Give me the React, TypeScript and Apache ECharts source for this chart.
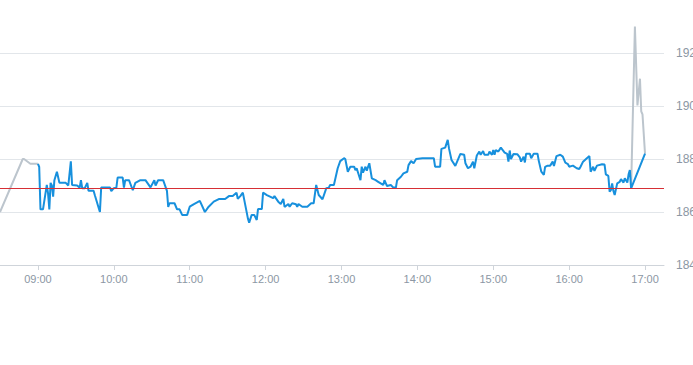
import React, { useEffect, useRef } from "react";
import * as echarts from "echarts";

const xTickLabels = ["09:00", "10:00", "11:00", "12:00", "13:00", "14:00", "15:00", "16:00", "17:00"];
const yTickValues = [184, 186, 188, 190, 192];
const previousClose = 186.89;

const preTimes = ["08:30", "08:48", "08:49", "08:54", "09:00"];
const preValues = [186.0, 188.0, 188.0, 187.82, 187.82];

const postTimes = ["16:49", "16:52", "16:54", "16:56", "16:57", "16:58", "17:00"];
const postValues = [186.89, 193.0, 190.02, 191.03, 189.8, 189.68, 188.2];

const mainTimes = [
  "09:00", "09:01", "09:02", "09:04", "09:07", "09:08", "09:09", "09:10", "09:11", "09:12", "09:13", "09:15", "09:17", "09:22", "09:24", "09:26", "09:27", "09:31", "09:33", "09:34", "09:35", "09:37", "09:39", "09:40", "09:44", "09:45", "09:49", "09:50", "09:57", "09:58",
  "10:00", "10:02", "10:03", "10:07", "10:08", "10:09", "10:12", "10:15", "10:17", "10:21", "10:25", "10:29", "10:32", "10:33", "10:35", "10:39", "10:42", "10:43", "10:44", "10:48", "10:50", "10:52", "10:54", "10:58",
  "11:00", "11:03", "11:08", "11:12", "11:15", "11:19", "11:23", "11:28", "11:31", "11:34", "11:37", "11:38", "11:40", "11:42", "11:46", "11:47", "11:49", "11:51", "11:53", "11:54", "11:57", "11:58",
  "12:01", "12:06", "12:07", "12:10", "12:12", "12:14", "12:15", "12:18", "12:19", "12:21", "12:24", "12:25", "12:26", "12:29", "12:33", "12:36", "12:38", "12:40", "12:42", "12:45", "12:48", "12:50", "12:51", "12:54", "12:57", "12:59",
  "13:02", "13:03", "13:05", "13:07", "13:10", "13:11", "13:12", "13:15", "13:16", "13:17", "13:19", "13:20", "13:22", "13:24", "13:27", "13:29", "13:33", "13:34", "13:36", "13:39", "13:41", "13:43", "13:44", "13:47", "13:49", "13:52", "13:53", "13:55", "13:57", "13:59",
  "14:04", "14:13", "14:14", "14:18", "14:19", "14:22", "14:24", "14:25", "14:27", "14:30", "14:34", "14:37", "14:38", "14:40", "14:42", "14:44", "14:45", "14:47", "14:49", "14:50", "14:52", "14:53", "14:56", "14:57", "14:59",
  "15:00", "15:01", "15:02", "15:04", "15:06", "15:09", "15:11", "15:12", "15:13", "15:14", "15:16", "15:19", "15:21", "15:22", "15:24", "15:25", "15:26", "15:29", "15:30", "15:32", "15:35", "15:36", "15:38", "15:40", "15:41", "15:43", "15:45", "15:47", "15:48", "15:50", "15:53", "15:55", "15:57", "15:59",
  "16:00", "16:03", "16:06", "16:08", "16:09", "16:11", "16:14", "16:16", "16:17", "16:19", "16:20", "16:22", "16:26", "16:28", "16:29", "16:31", "16:32", "16:33", "16:34", "16:35", "16:36", "16:38", "16:40", "16:41", "16:43", "16:44", "16:46", "16:47", "16:48", "16:49",
  "17:00",
];
const mainValues = [
  187.82, 187.7, 186.1, 186.1, 187.02, 186.7, 186.1, 187.1, 187.0, 186.58, 187.2, 187.52, 187.1, 187.1, 187.0, 187.91, 187.02, 187.0, 186.92, 187.2, 186.9, 186.9, 187.1, 186.8, 186.8, 186.63, 186.0, 186.92, 186.92, 186.79,
  186.9, 186.92, 187.3, 187.3, 186.92, 187.2, 187.2, 186.82, 187.1, 187.2, 187.2, 186.93, 187.2, 187.0, 187.2, 187.2, 186.8, 186.19, 186.33, 186.33, 186.1, 186.1, 185.89, 185.89,
  186.2, 186.29, 186.42, 186.0, 186.2, 186.39, 186.49, 186.49, 186.6, 186.6, 186.73, 186.5, 186.6, 186.73, 185.76, 185.6, 185.89, 185.89, 185.7, 186.11, 186.11, 186.73,
  186.64, 186.52, 186.6, 186.39, 186.3, 186.49, 186.19, 186.3, 186.2, 186.33, 186.29, 186.2, 186.3, 186.2, 186.2, 186.33, 186.33, 187.02, 186.64, 186.48, 186.9, 186.92, 187.02, 187.02, 187.65, 187.92,
  188.03, 188.0, 187.52, 187.71, 187.71, 187.58, 187.65, 187.2, 187.71, 187.49, 187.71, 187.56, 187.84, 187.27, 187.2, 187.14, 187.02, 187.2, 186.98, 187.02, 186.92, 186.92, 187.2, 187.33, 187.46, 187.52, 187.77, 187.92, 187.84, 188.0,
  188.03, 188.03, 187.71, 187.71, 188.38, 188.43, 188.72, 188.4, 187.96, 187.74, 188.19, 188.16, 187.84, 187.65, 187.71, 187.9, 187.65, 188.13, 188.28, 188.16, 188.3, 188.16, 188.16, 188.28, 188.16,
  188.34, 188.16, 188.34, 188.28, 188.43, 188.24, 188.19, 187.9, 188.32, 188.0, 188.19, 188.18, 188.06, 187.9, 188.09, 187.87, 188.2, 188.2, 188.03, 188.2, 188.2, 187.93, 187.52, 187.4, 187.7, 187.75, 187.75, 187.9, 187.74, 188.11, 188.16, 188.09, 187.86, 187.81,
  187.71, 187.75, 187.65, 187.62, 187.71, 187.9, 188.03, 188.11, 187.52, 187.71, 187.55, 187.75, 187.8, 187.79, 187.42, 187.36, 186.77, 186.83, 187.08, 186.79, 186.64, 187.08, 187.14, 187.24, 187.11, 187.27, 187.11, 187.42, 187.58, 186.89,
  188.2,
];

const toMin = (t: string) => {
  const [h, m] = t.split(":").map(Number);
  return h * 60 + m;
};
const fmt = (v: number) =>
  `${String(Math.floor(v / 60)).padStart(2, "0")}:${String(Math.round(v % 60)).padStart(2, "0")}`;
const pairs = (ts: string[], vs: number[]) => ts.map((t, i) => [toMin(t), vs[i]]);

const FONT = "'Liberation Sans', Arial, sans-serif";
const LABEL = "#8c97a4";

export default function App() {
  const ref = useRef<HTMLDivElement>(null);
  useEffect(() => {
    if (!ref.current) return;
    const chart = echarts.init(ref.current, undefined, { renderer: "svg" });
    const xTicks = xTickLabels.map(toMin);
    chart.setOption({
      animation: false,
      backgroundColor: "#ffffff",
      grid: { left: 0, right: 29, top: 0, bottom: 100, containLabel: false, outerBoundsMode: "none" },
      xAxis: {
        type: "value",
        min: toMin("08:30"),
        max: toMin("17:15"),
        axisLine: { show: true, lineStyle: { color: "#cfd4da", width: 1 } },
        axisTick: { show: true, length: 5, customValues: xTicks, lineStyle: { color: "#cfd4da" } },
        axisLabel: {
          customValues: xTicks,
          formatter: (v: number) => fmt(v),
          color: LABEL,
          fontSize: 11,
          fontFamily: FONT,
          margin: 8,
        },
        splitLine: { show: false },
      },
      yAxis: {
        type: "value",
        position: "right",
        min: 184,
        max: 194,
        axisLine: { show: false },
        axisTick: { show: false, customValues: yTickValues },
        axisLabel: {
          customValues: yTickValues,
          color: LABEL,
          fontSize: 12,
          fontFamily: FONT,
          margin: 12,
        },
        splitLine: { show: true, lineStyle: { color: "#e2e6ea", width: 1 } },
      },
      series: [
        {
          type: "line",
          data: pairs(preTimes, preValues),
          showSymbol: false,
          symbol: "none",
          lineStyle: { color: "#bcc5cd", width: 2 },
          z: 2,
        },
        {
          type: "line",
          data: pairs(postTimes, postValues),
          showSymbol: false,
          symbol: "none",
          lineStyle: { color: "#bcc5cd", width: 2 },
          z: 2,
        },
        {
          type: "line",
          data: pairs(mainTimes, mainValues),
          showSymbol: false,
          symbol: "none",
          lineStyle: { color: "#1790dd", width: 2 },
          z: 3,
          markLine: {
            silent: true,
            symbol: ["none", "none"],
            label: { show: false },
            lineStyle: { color: "#d62f35", width: 1, type: "solid" },
            data: [{ yAxis: previousClose }],
          },
        },
      ],
    });
    return () => chart.dispose();
  }, []);
  return (
    <div
      ref={ref}
      style={{ position: "fixed", left: 0, top: 0, width: 693, height: 365, background: "#fff" }}
    />
  );
}
